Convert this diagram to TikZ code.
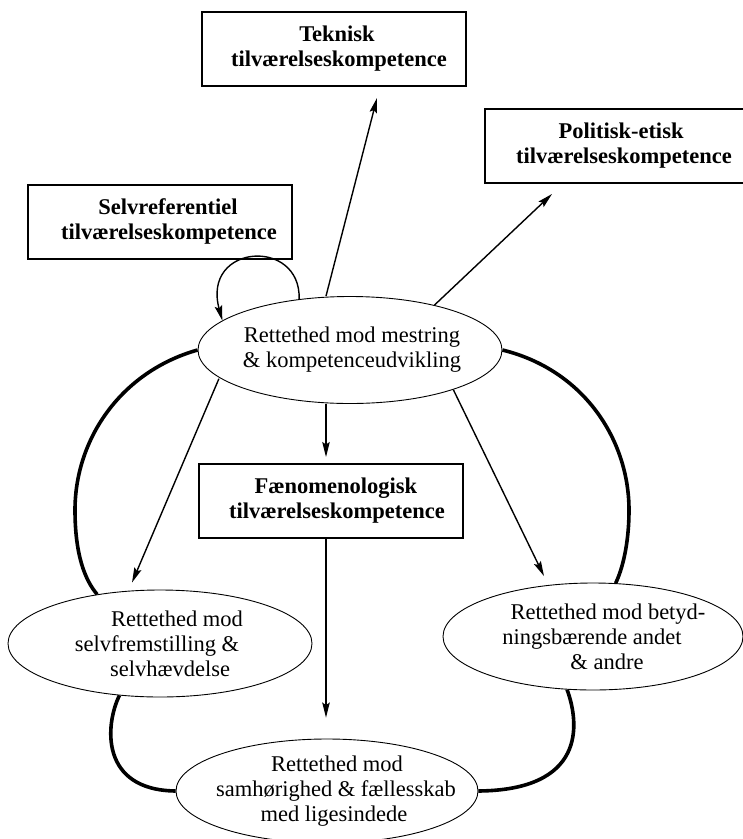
\documentclass[tikz,border=0pt]{standalone}
\usepackage{fontspec}
\setmainfont{Liberation Serif}
\usetikzlibrary{arrows.meta,shapes.geometric}
\newcommand\tl[2]{\makebox[0pt][c]{\hspace*{#1pt}#2}}
\begin{document}
\begin{tikzpicture}[x=1pt,y=-1pt,
  box/.style={draw, line width=2pt, minimum width=264pt, minimum height=74pt,
    inner sep=0pt, align=center, font=\bfseries\fontsize{22.5}{25}\selectfont},
  ell/.style={draw, ellipse, line width=0.9pt, minimum width=304pt, minimum height=107pt,
    inner sep=0pt, align=center, font=\fontsize{22.5}{25}\selectfont},
  arr/.style={line width=1.4pt, -{Stealth[length=15pt,width=7.5pt,inset=2.5pt]}},
  bond/.style={line width=3.6pt}]
\useasboundingbox (0,0) rectangle (743,839);
\clip (0,0) rectangle (743,839);

\node[box] (tek) at (334,49) {\raisebox{4pt}{\tl{6}{Teknisk}}\\ \raisebox{4pt}{\tl{10}{tilværelseskompetence}}};
\node[box, minimum width=265pt] (pol) at (617.5,146) {\tl{7}{Politisk-etisk}\\ \tl{13}{tilværelseskompetence}};
\node[box] (selv) at (160,221.5) {\tl{16}{Selvreferentiel}\\ \tl{18}{tilværelseskompetence}};
\node[box] (fen) at (330.5,501) {\tl{11}{Fænomenologisk}\\ \tl{13}{tilværelseskompetence}};

\node[ell] (me) at (350,350) {\tl{4}{Rettethed mod mestring}\\ \tl{4}{\& kompetenceudvikling}};
\node[ell] (sf) at (160,643.5) {\tl{34}{Rettethed mod}\\ \tl{-6}{selvfremstilling \&}\\ \tl{20}{selvhævdelse}};
\node[ell, minimum width=300pt] (bt) at (593,636.5) {\tl{30}{Rettethed mod betyd-}\\ \tl{-2}{ningsbærende andet}\\ \tl{28}{\& andre}};
\node[ell, minimum width=302pt, minimum height=104pt] (sa) at (327,791) {\tl{20}{Rettethed mod}\\ \tl{18}{samhørighed \& fællesskab}\\ \tl{14}{med ligesindede}};

\draw[arr] ([xshift=-24pt]me.north) -- ([xshift=43pt,yshift=-11pt]tek.south);
\draw[arr] (me.28) -- ([xshift=68pt,yshift=-10pt]pol.south west);
\draw[arr] (me.135.3) .. controls +(2,-62) and +(-21,-77) .. (me.167.5);
\draw[arr, shorten <=1pt] (me.192.6) -- ([xshift=-28pt,yshift=7pt]sf.north);
\draw[arr] (me.339.7) -- ([xshift=-49pt,yshift=6.5pt]bt.north);
\draw[arr] ([xshift=-24pt]me.south) -- ([xshift=-4.5pt,yshift=6pt]fen.north);
\draw[arr] ([xshift=-4.5pt]fen.south) -- ([xshift=-1pt,yshift=21pt]sa.north);

\draw[bond] (me.west) .. controls (120,372) and (75,440) .. (75,510)
  .. controls (75,555) and (85,580) .. (sf.142);
\draw[bond] (me.east) .. controls (584,370) and (629,440) .. (629,510)
  .. controls (629,545) and (622,570) .. (bt.67.8);
\draw[bond] (sf.232.4) .. controls (105,725) and (100,790) .. (sa.west);
\draw[bond] (bt.244.7) .. controls (580,725) and (585,790) .. (sa.east);
\end{tikzpicture}
\end{document}
